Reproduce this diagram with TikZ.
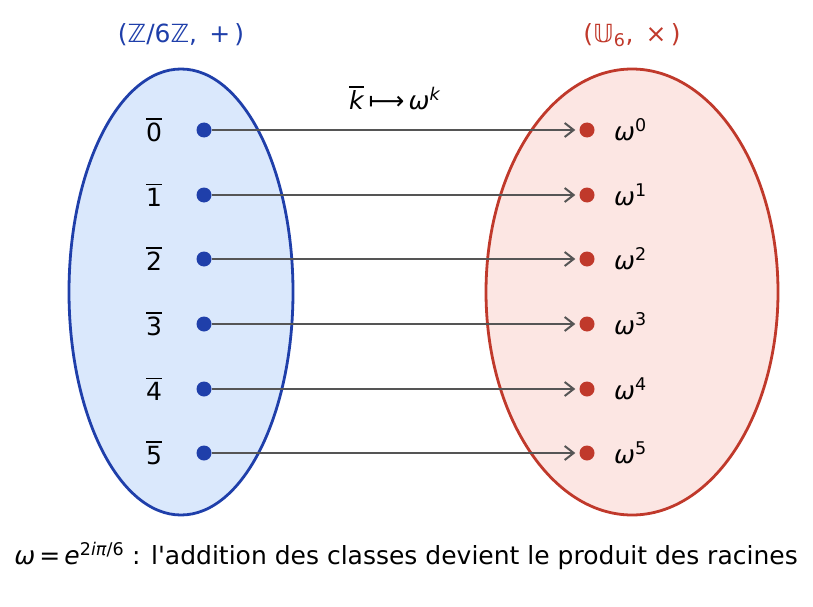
\documentclass[tikz,border=0pt]{standalone}
\usepackage{fontspec}
\setmainfont{DejaVu Sans}[Ligatures=TeXOff]
\usetikzlibrary{arrows.meta}
\definecolor{lblue}{HTML}{DAE8FC}
\definecolor{dblue}{HTML}{1F3FAA}
\definecolor{lred}{HTML}{FCE6E3}
\definecolor{dred}{HTML}{C0392B}
\definecolor{agray}{HTML}{555555}
\newcommand{\clsbar}[1]{{\setbox0\hbox{#1}\rlap{\raisebox{\dimexpr\ht0+3pt\relax}{\rule{\wd0}{1.5pt}}}\box0}}
\newcommand{\om}{\textit{ω}}
\begin{document}
\begin{tikzpicture}[x=1pt,y=-1pt,
  every node/.style={font=\fontsize{25}{29}\selectfont},
  ldot/.style={circle,fill=dblue,inner sep=0pt,minimum size=15pt},
  rdot/.style={circle,fill=dred,inner sep=0pt,minimum size=15pt},
  maparrow/.style={draw=agray,line width=2pt,shorten >=4pt,-{Straight Barb[length=9pt,width=14pt,line width=2pt]}},
  lab/.style={inner sep=0pt}]
\useasboundingbox (0,0) rectangle (813,607);
\draw[fill=lblue,draw=dblue,line width=2.8pt] (181,292) ellipse [x radius=112, y radius=223];
\draw[fill=lred,draw=dred,line width=2.8pt] (632,292) ellipse [x radius=146, y radius=223];
\node[text=dblue] (tl) at (181,35) {(ℤ/6ℤ, \,+\,)};
\node[text=dred] (tr) at (632,35) {(𝕌\textsubscript{6}, \,×\,)};
\node (map) at (395,98) {\clsbar{\textit{k}}\,⟼\,\om\textsuperscript{\textit{k}}};
\foreach \i/\y in {0/130,1/195,2/259,3/324,4/389,5/453}{
  \node[ldot] (a\i) at (204,\y) {};
  \node[rdot] (b\i) at (587,\y) {};
  \node[lab] (la\i) at (154,\y) {\clsbar{\i}};
  \node[lab,anchor=west] (lb\i) at (614,\y) {\om\textsuperscript{\i}};
  \draw[maparrow] (a\i) -- (b\i);
}
\node (bot) at (406,556) {\om\,=\,\textit{e}\textsuperscript{2\textit{iπ}/6} : l'addition des classes devient le produit des racines};
\end{tikzpicture}
\end{document}
